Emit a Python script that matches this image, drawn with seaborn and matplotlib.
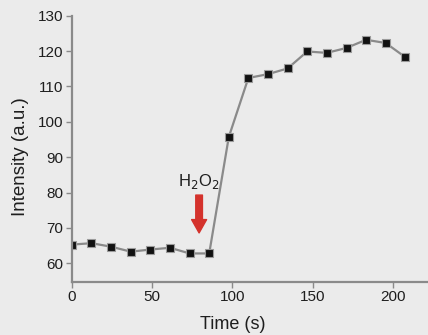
import matplotlib
matplotlib.use("Agg")
import matplotlib.pyplot as plt
import seaborn as sns
import pandas as pd

time_s = [0, 12.2, 24.5, 36.7, 48.9, 61.1, 73.4, 85.6, 97.8, 110.0, 122.3, 134.5, 146.7, 158.9, 171.2, 183.4, 195.6, 207.8]
intensity = [65.3, 65.7, 64.7, 63.3, 63.9, 64.4, 62.8, 62.8, 95.7, 112.4, 113.5, 115.1, 119.9, 119.5, 120.9, 123.2, 122.3, 118.3]
x_ticks = [0, 50, 100, 150, 200]
y_ticks = [60, 70, 80, 90, 100, 110, 120, 130]
annot_label = "H$_2$O$_2$"
annot_time = 79.3

df = pd.DataFrame({"Time (s)": time_s, "Intensity (a.u.)": intensity})

sns.set_theme(style="ticks")
plt.rcParams['font.family'] = ['Liberation Sans', 'DejaVu Sans']
bg = "#ebebeb"
txt = "#1e1e1e"
fig = plt.figure(figsize=(4.28, 3.35), dpi=100, facecolor=bg)
ax = fig.add_axes([0.168, 0.159, 0.832, 0.794])
ax.set_facecolor(bg)

sns.lineplot(data=df, x="Time (s)", y="Intensity (a.u.)", ax=ax, color="#8a8a8a",
             linewidth=1.6, marker="s", markersize=5.5, markerfacecolor="#111111",
             markeredgecolor="#9a9a9a", markeredgewidth=0.8)

ax.set_xlim(0, 222)
ax.set_ylim(54.8, 130)
ax.set_xticks(x_ticks)
ax.set_yticks(y_ticks)
for s in ["top", "right"]:
    ax.spines[s].set_visible(False)
for s in ["left", "bottom"]:
    ax.spines[s].set_color("#8a8a8a")
    ax.spines[s].set_linewidth(1.6)
ax.tick_params(axis="both", colors="#8a8a8a", length=4, width=1, labelsize=11,
               labelcolor=txt, pad=2)
ax.set_xlabel("Time (s)", fontsize=13, color=txt)
ax.set_ylabel("Intensity (a.u.)", fontsize=13.5, color=txt)
ax.yaxis.set_label_coords(-0.12, 0.469)
ax.xaxis.set_label_coords(0.452, -0.13)

ax.annotate("", xy=(annot_time, 68.6), xytext=(annot_time, 79.3),
            arrowprops=dict(arrowstyle="simple,head_width=0.9,head_length=0.8,tail_width=0.4",
                            color="#d4322c", shrinkA=0, shrinkB=0))
ax.text(annot_time - 0.5, 83, annot_label, ha="center", va="center", fontsize=12, color=txt)

fig.savefig("out.png", dpi=100, facecolor=bg)
